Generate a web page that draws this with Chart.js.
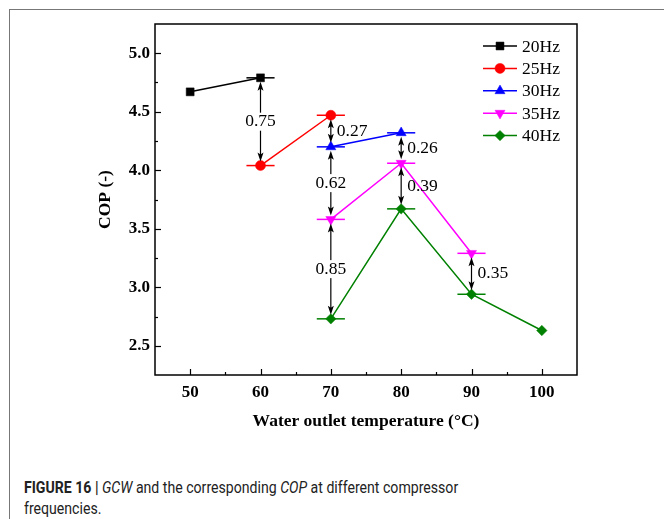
<!DOCTYPE html>
<html><head><meta charset="utf-8">
<script src="https://cdn.jsdelivr.net/npm/chart.js@4.4.0/dist/chart.umd.min.js"></script>
<style>
html,body{margin:0;padding:0;background:#fff;}
body{width:664px;height:519px;overflow:hidden;position:relative;}
#frame{position:absolute;left:9px;top:9px;width:700px;height:600px;border:1px solid #777;}
#wrap{position:absolute;left:0;top:0;width:664px;height:440px;}
#caption{position:absolute;left:24px;top:477px;font-family:"Roboto","Liberation Sans",sans-serif;font-size:16.5px;line-height:21px;color:#222;white-space:nowrap;transform:scaleX(0.855);transform-origin:0 0;}
#caption b{font-weight:bold;}
</style></head>
<body>
<div id="frame"></div>
<div id="wrap"><canvas id="c" width="664" height="440"></canvas></div>
<div id="caption"><b>FIGURE 16 |</b> <i>GCW</i> and the corresponding <i>COP</i> at different compressor<br>frequencies.</div>
<script>
// ---- data ----
const seriesNames = ['20Hz', '25Hz', '30Hz', '35Hz', '40Hz'];
const x20Hz = [50, 60];          const cop20Hz = [4.67, 4.79];
const x25Hz = [60, 70];          const cop25Hz = [4.04, 4.47];
const x30Hz = [70, 80];          const cop30Hz = [4.20, 4.32];
const x35Hz = [70, 80, 90];      const cop35Hz = [3.58, 4.06, 3.29];
const x40Hz = [70, 80, 90, 100]; const cop40Hz = [2.73, 3.67, 2.94, 2.63];

// COP differences between neighbouring frequencies (double arrows)
const gapX      = [60, 70, 70, 70, 80, 80, 90];
const gapFrom   = ['20Hz', '25Hz', '30Hz', '35Hz', '30Hz', '35Hz', '35Hz'];
const gapTo     = ['25Hz', '30Hz', '35Hz', '40Hz', '35Hz', '40Hz', '40Hz'];
const gapLabels = ['0.75', '0.27', '0.62', '0.85', '0.26', '0.39', '0.35'];
const gapSide   = ['center', 'right', 'center', 'center', 'right', 'right', 'right'];

const xTicks = [50, 60, 70, 80, 90, 100];
const yTicks = [2.5, 3.0, 3.5, 4.0, 4.5, 5.0];
const xRange = [45, 105];
const yRange = [2.25, 5.25];

// ---- styles ----
const colors = ['#000000', '#ff0000', '#0000ff', '#ff00ff', '#008000'];
const styles = ['rect', 'circle', 'triangle', 'triangle', 'rectRot'];
const rotations = [0, 0, 0, 180, 0];
const radii = [5.6, 5, 5.8, 5.8, 5.2];
const xs = [x20Hz, x25Hz, x30Hz, x35Hz, x40Hz];
const ys = [cop20Hz, cop25Hz, cop30Hz, cop35Hz, cop40Hz];

const SERIF = '"Liberation Serif", serif';

const datasets = seriesNames.map((n, i) => ({
  label: n,
  data: xs[i].map((x, j) => ({x: x, y: ys[i][j]})),
  borderColor: colors[i],
  backgroundColor: colors[i],
  borderWidth: 1.5,
  pointStyle: styles[i],
  pointRotation: rotations[i],
  pointRadius: radii[i],
  pointBorderWidth: 0.5,
  pointHoverRadius: radii[i],
  tension: 0
}));

function valueOf(name, x) {
  const i = seriesNames.indexOf(name);
  const j = xs[i].indexOf(x);
  return ys[i][j];
}

function drawMarker(ctx, i, x, y) {
  Chart.helpers.drawPoint(ctx, {pointStyle: styles[i], rotation: rotations[i], radius: radii[i], borderWidth: 0.5}, x, y);
}

const decor = {
  id: 'decor',
  beforeDatasetsDraw(chart) {
    const ctx = chart.ctx, sx = chart.scales.x, sy = chart.scales.y;
    ctx.save();
    ctx.lineWidth = 1.5;
    const done = {};
    gapX.forEach((gx, k) => {
      [gapFrom[k], gapTo[k]].forEach(name => {
        const key = name + '@' + gx;
        if (done[key]) return;
        done[key] = true;
        const i = seriesNames.indexOf(name);
        const py = sy.getPixelForValue(valueOf(name, gx));
        ctx.strokeStyle = colors[i];
        ctx.beginPath();
        ctx.moveTo(sx.getPixelForValue(gx - 2), py);
        ctx.lineTo(sx.getPixelForValue(gx + 2), py);
        ctx.stroke();
      });
    });
    ctx.restore();
  },
  afterDatasetsDraw(chart) {
    const ctx = chart.ctx, sx = chart.scales.x, sy = chart.scales.y, area = chart.chartArea;
    ctx.save();
    gapX.forEach((gx, k) => {
      const px = sx.getPixelForValue(gx);
      const yTop = sy.getPixelForValue(valueOf(gapFrom[k], gx)) + 4;
      const yBot = sy.getPixelForValue(valueOf(gapTo[k], gx)) - 4;
      ctx.strokeStyle = '#000'; ctx.fillStyle = '#000'; ctx.lineWidth = 1.2;
      ctx.beginPath(); ctx.moveTo(px, yTop + 6); ctx.lineTo(px, yBot - 6); ctx.stroke();
      ctx.beginPath(); ctx.moveTo(px, yTop); ctx.lineTo(px - 3, yTop + 9); ctx.lineTo(px, yTop + 7); ctx.lineTo(px + 3, yTop + 9); ctx.closePath(); ctx.fill();
      ctx.beginPath(); ctx.moveTo(px, yBot); ctx.lineTo(px - 3, yBot - 9); ctx.lineTo(px, yBot - 7); ctx.lineTo(px + 3, yBot - 9); ctx.closePath(); ctx.fill();
      const my = (yTop + yBot) / 2;
      ctx.font = 'normal 400 17.5px ' + SERIF;
      ctx.textBaseline = 'middle';
      if (gapSide[k] === 'center') {
        const w = ctx.measureText(gapLabels[k]).width;
        ctx.fillStyle = '#fff';
        ctx.fillRect(px - w / 2 - 1, my - 9, w + 2, 18);
        ctx.fillStyle = '#000';
        ctx.textAlign = 'center';
        ctx.fillText(gapLabels[k], px, my);
      } else {
        ctx.fillStyle = '#000';
        ctx.textAlign = 'left';
        ctx.fillText(gapLabels[k], px + 6, my);
      }
    });
    // legend
    seriesNames.forEach((n, i) => {
      const y = area.top + 22 + i * 22.4;
      const x0 = area.right - 94, x1 = area.right - 60;
      ctx.strokeStyle = colors[i]; ctx.lineWidth = 1.5;
      ctx.beginPath(); ctx.moveTo(x0, y); ctx.lineTo(x1, y); ctx.stroke();
      ctx.fillStyle = colors[i]; ctx.strokeStyle = colors[i]; ctx.lineWidth = 0.5;
      drawMarker(ctx, i, (x0 + x1) / 2, y);
      ctx.font = 'normal 400 17.5px ' + SERIF;
      ctx.textAlign = 'left'; ctx.textBaseline = 'middle';
      ctx.fillStyle = '#000';
      ctx.fillText(n, area.right - 55, y + 1);
    });
    ctx.restore();
  },
  afterDraw(chart) {
    const ctx = chart.ctx, sx = chart.scales.x, sy = chart.scales.y, a = chart.chartArea;
    ctx.save();
    ctx.strokeStyle = '#000';
    ctx.lineWidth = 1.2;
    xTicks.forEach(v => {
      const p = Math.round(sx.getPixelForValue(v)) + 0.5;
      ctx.beginPath(); ctx.moveTo(p, a.bottom); ctx.lineTo(p, a.bottom - 6); ctx.stroke();
      if (v + 5 < xRange[1]) { const m = Math.round(sx.getPixelForValue(v + 5)) + 0.5; ctx.beginPath(); ctx.moveTo(m, a.bottom); ctx.lineTo(m, a.bottom - 3); ctx.stroke(); }
    });
    if (xTicks[0] - 5 > xRange[0]) { const m = Math.round(sx.getPixelForValue(xTicks[0] - 5)) + 0.5; ctx.beginPath(); ctx.moveTo(m, a.bottom); ctx.lineTo(m, a.bottom - 3); ctx.stroke(); }
    yTicks.forEach(v => {
      const p = Math.round(sy.getPixelForValue(v)) + 0.5;
      ctx.beginPath(); ctx.moveTo(a.left, p); ctx.lineTo(a.left + 6, p); ctx.stroke();
      const mv = v + 0.25;
      if (mv < yRange[1]) { const m = Math.round(sy.getPixelForValue(mv)) + 0.5; ctx.beginPath(); ctx.moveTo(a.left, m); ctx.lineTo(a.left + 3, m); ctx.stroke(); }
    });
    if (yTicks[0] - 0.25 > yRange[0]) { const m = Math.round(sy.getPixelForValue(yTicks[0] - 0.25)) + 0.5; ctx.beginPath(); ctx.moveTo(a.left, m); ctx.lineTo(a.left + 3, m); ctx.stroke(); }
    ctx.lineWidth = 1.5;
    ctx.strokeRect(a.left, a.top, a.right - a.left, a.bottom - a.top);
    ctx.restore();
  }
};

new Chart(document.getElementById('c'), {
  type: 'line',
  data: {datasets: datasets},
  plugins: [decor],
  options: {
    responsive: false,
    animation: false,
    layout: {padding: {left: 0, top: 24, right: 87, bottom: 0}},
    plugins: {legend: {display: false}, tooltip: {enabled: false}},
    scales: {
      x: {
        type: 'linear', min: xRange[0], max: xRange[1],
        afterFit: s => { s.height = 65; },
        afterBuildTicks: s => { s.ticks = xTicks.map(v => ({value: v})); },
        grid: {display: false, drawTicks: false},
        border: {display: false},
        ticks: {padding: 7, color: '#000', font: {family: SERIF, size: 17, weight: 'bold'}, maxRotation: 0, callback: v => String(v)},
        title: {display: true, text: 'Water outlet temperature (°C)', color: '#000', padding: {top: 0, bottom: 8}, font: {family: SERIF, size: 17.5, weight: 'bold'}}
      },
      y: {
        type: 'linear', min: yRange[0], max: yRange[1],
        afterFit: s => { s.width = 155; },
        afterBuildTicks: s => { s.ticks = yTicks.map(v => ({value: v})); },
        grid: {display: false, drawTicks: false},
        border: {display: false},
        ticks: {padding: 5, color: '#000', font: {family: SERIF, size: 17, weight: 'bold'}, callback: v => Number(v).toFixed(1)},
        title: {display: true, text: 'COP (-)', color: '#000', padding: {top: 95, bottom: 0}, font: {family: SERIF, size: 17.5, weight: 'bold'}}
      }
    }
  }
});
</script>
</body></html>
